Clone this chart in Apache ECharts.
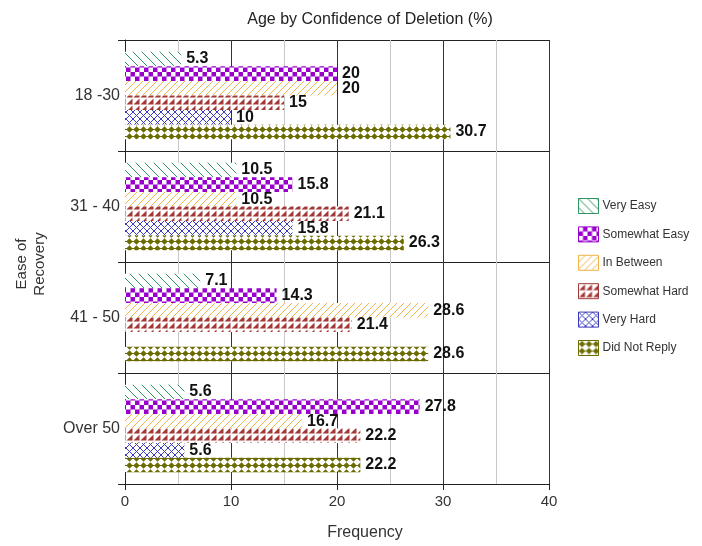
<!DOCTYPE html>
<html>
<head>
<meta charset="utf-8">
<script src="https://cdn.jsdelivr.net/npm/echarts@6/dist/echarts.min.js"></script>
<style>html,body{margin:0;padding:0;background:#fff;}#main{width:702px;height:546px;}</style>
</head>
<body>
<div id="main"></div>
<script>
const categories = ['18 -30', '31 - 40', '41 - 50', 'Over 50'];
const seriesNames = ['Very Easy', 'Somewhat Easy', 'In Between', 'Somewhat Hard', 'Very Hard', 'Did Not Reply'];
const veryEasy = [5.3, 10.5, 7.1, 5.6];
const somewhatEasy = [20, 15.8, 14.3, 27.8];
const inBetween = [20, 10.5, 28.6, 16.7];
const somewhatHard = [15, 21.1, 21.4, 22.2];
const veryHard = [10, 15.8, '-', 5.6];
const didNotReply = [30.7, 26.3, 28.6, 22.2];
const xTicks = [0, 10, 20, 30, 40];

const colors = ['#2e9460', '#9900cc', '#f0b448', '#a33838', '#3a3ac0', '#6b6b00'];
const kinds = ['back', 'checker', 'fwd', 'tri', 'cross', 'diamond'];

function makePattern(kind, color) {
  const c = document.createElement('canvas');
  let s = 7;
  if (kind === 'back') s = 9;
  if (kind === 'checker') s = 9;
  c.width = s; c.height = s;
  const g = c.getContext('2d');
  g.fillStyle = '#fff';
  g.fillRect(0, 0, s, s);
  g.strokeStyle = color; g.fillStyle = color; g.lineWidth = 1;
  if (kind === 'back') {
    g.beginPath(); g.moveTo(-1, -1); g.lineTo(s + 1, s + 1); g.stroke();
    g.beginPath(); g.moveTo(-1, s - 1); g.lineTo(1, s + 1); g.stroke();
    g.beginPath(); g.moveTo(s - 1, -1); g.lineTo(s + 1, 1); g.stroke();
  } else if (kind === 'fwd') {
    g.beginPath(); g.moveTo(-1, s + 1); g.lineTo(s + 1, -1); g.stroke();
    g.beginPath(); g.moveTo(-1, 1); g.lineTo(1, -1); g.stroke();
    g.beginPath(); g.moveTo(s - 1, s + 1); g.lineTo(s + 1, s - 1); g.stroke();
  } else if (kind === 'checker') {
    g.fillRect(0, 0, s, s);
    g.fillStyle = '#fff';
    g.fillRect(0, 0, 4.5, 4.5);
    g.fillRect(4.5, 4.5, 4.5, 4.5);
  } else if (kind === 'tri') {
    g.beginPath(); g.moveTo(6.5, 0.5); g.lineTo(6.5, 6.5); g.lineTo(0.5, 6.5); g.closePath(); g.fill();
  } else if (kind === 'cross') {
    g.beginPath(); g.moveTo(0, 0); g.lineTo(s, s); g.stroke();
    g.beginPath(); g.moveTo(s, 0); g.lineTo(0, s); g.stroke();
  } else if (kind === 'diamond') {
    g.beginPath(); g.moveTo(3.5, 0.3); g.lineTo(6.7, 3.5); g.lineTo(3.5, 6.7); g.lineTo(0.3, 3.5); g.closePath(); g.fill();
    g.fillRect(0, 3, s, 1);
  }
  return { image: c, repeat: 'repeat' };
}

const dataSets = [veryEasy, somewhatEasy, inBetween, somewhatHard, veryHard, didNotReply];

const chart = echarts.init(document.getElementById('main'), null, { renderer: 'canvas' });
const FONT = 'Liberation Sans, Arial, sans-serif';

chart.setOption({
  backgroundColor: '#fff',
  animation: false,
  title: {
    text: 'Age by Confidence of Deletion (%)',
    left: 365, top: 7, textAlign: 'center',
    textStyle: { fontSize: 16, fontWeight: 'normal', color: '#222', fontFamily: FONT }
  },
  legend: {
    orient: 'vertical', left: 578, top: 198, padding: 0,
    itemWidth: 20, itemHeight: 15, itemGap: 12.4,
    icon: 'rect',
    textStyle: { fontSize: 12, color: '#333', fontFamily: FONT, padding: [0, 0, 0, -1] },
    data: seriesNames.map((n, i) => ({ name: n, itemStyle: { borderColor: colors[i], borderWidth: 1 } }))
  },
  grid: { left: 125, right: 153, top: 40, bottom: 61, containLabel: false },
  xAxis: {
    type: 'value', min: xTicks[0], max: xTicks[xTicks.length - 1], interval: 10,
    name: 'Frequency', nameLocation: 'middle', nameGap: 41,
    nameTextStyle: { fontSize: 16, color: '#333', fontFamily: FONT, padding: [0, 0, 0, 56] },
    axisLine: { show: true, lineStyle: { color: '#222', width: 1 } },
    axisTick: { show: true, length: 6, lineStyle: { color: '#222' } },
    axisLabel: { fontSize: 15, color: '#333', fontFamily: FONT, margin: 10 },
    splitLine: { show: true, lineStyle: { color: '#333', width: 1 } },
    minorTick: { show: false, splitNumber: 2 },
    minorSplitLine: { show: true, lineStyle: { color: '#c8c8c8', width: 1 } }
  },
  yAxis: {
    type: 'category', data: categories, inverse: true,
    axisLine: { show: true, lineStyle: { color: '#222', width: 1 } },
    axisTick: { show: true, length: 7, lineStyle: { color: '#222' } },
    axisLabel: { fontSize: 16, color: '#333', fontFamily: FONT, margin: 5 },
    splitLine: { show: true, lineStyle: { color: '#222', width: 1 } }
  },
  graphic: [{
    type: 'text', x: 31, y: 264, rotation: Math.PI / 2,
    style: { text: 'Ease of\nRecovery', fontSize: 15, fill: '#333', fontFamily: FONT, align: 'center', verticalAlign: 'middle', lineHeight: 18 }
  }],
  series: seriesNames.map((n, i) => ({
    name: n, type: 'bar', data: dataSets[i],
    barGap: '0%', barCategoryGap: '21%',
    itemStyle: { color: makePattern(kinds[i], colors[i]) },
    label: {
      show: true, position: 'right', distance: 5,
      fontSize: 16, fontWeight: 'bold', color: '#111', fontFamily: FONT,
      formatter: p => p.value
    }
  }))
});
</script>
</body>
</html>
